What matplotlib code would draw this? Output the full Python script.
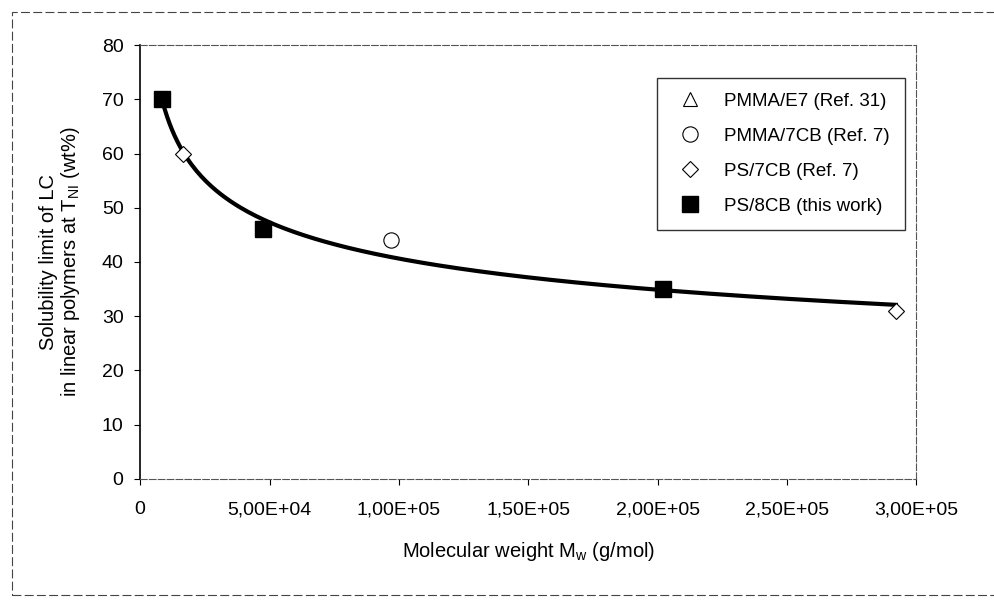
import numpy as np
import matplotlib
matplotlib.use('Agg')
import matplotlib.pyplot as plt
from matplotlib.ticker import FuncFormatter
from matplotlib.patches import Rectangle

plt.rcParams['font.family'] = ['Liberation Sans', 'DejaVu Sans']
plt.rcParams['mathtext.default'] = 'regular'

# data
pmma_e7_m = [8500]
pmma_e7_sol = [70]
pmma_7cb_m = [97000]
pmma_7cb_sol = [44]
ps_7cb_m = [16500, 292000]
ps_7cb_sol = [60, 31]
ps_8cb_m = [8500, 47500, 202000]
ps_8cb_sol = [70, 46, 35]

# power-law trendline through all points
all_m = np.array(pmma_7cb_m + ps_7cb_m + ps_8cb_m, dtype=float)
all_s = np.array(pmma_7cb_sol + ps_7cb_sol + ps_8cb_sol, dtype=float)
b, lna = np.polyfit(np.log(all_m), np.log(all_s), 1)
m_fit = np.linspace(min(all_m), max(all_m), 300)
s_fit = np.exp(lna) * m_fit ** b

fig = plt.figure(figsize=(9.94, 6.10), dpi=100)
ax = fig.add_axes([0.141, 0.215, 0.781, 0.711])

ax.plot(m_fit, s_fit, color='black', lw=3, zorder=2)
ax.plot(pmma_e7_m, pmma_e7_sol, '^', ms=10, mfc='white', mec='black', mew=0.8,
        ls='none', label='PMMA/E7 (Ref. 31)', zorder=1)
ax.plot(pmma_7cb_m, pmma_7cb_sol, 'o', ms=11, mfc='white', mec='black', mew=0.8,
        ls='none', label='PMMA/7CB (Ref. 7)', zorder=3)
ax.plot(ps_7cb_m, ps_7cb_sol, 'D', ms=8, mfc='white', mec='black', mew=0.8,
        ls='none', label='PS/7CB (Ref. 7)', zorder=3)
ax.plot(ps_8cb_m, ps_8cb_sol, 's', ms=12, color='black',
        ls='none', label='PS/8CB (this work)', zorder=4)

ax.set_xlim(0, 3.0e5)
ax.set_ylim(0, 80)
ax.set_xticks(np.arange(0, 3.01e5, 5e4))
ax.set_yticks(np.arange(0, 81, 10))
ax.xaxis.set_major_formatter(FuncFormatter(
    lambda v, p: '0' if v == 0 else ('%.2E' % v).replace('.', ',')))
ax.tick_params(labelsize=14, direction='out', length=4, width=0.8)
ax.tick_params(axis='x', pad=12)
ax.tick_params(axis='y', pad=8)

for side in ['top', 'right', 'bottom']:
    ax.spines[side].set_linestyle((0, (6, 2)))
    ax.spines[side].set_color('#555555')
    ax.spines[side].set_linewidth(0.8)
ax.spines['left'].set_linewidth(1.2)

ax.set_xlabel('Molecular weight M$_w$ (g/mol)', fontsize=14.5, labelpad=16)
ax.set_ylabel('Solubility limit of LC\nin linear polymers at T$_{NI}$ (wt%)',
              fontsize=14.5, labelpad=14, linespacing=1.05)

leg = ax.legend(loc='upper right', bbox_to_anchor=(0.985, 0.925), fontsize=13.5,
                frameon=True, fancybox=False, edgecolor='black', borderaxespad=0,
                borderpad=0.8, labelspacing=0.95, handletextpad=0.8)
leg.get_frame().set_linewidth(1.0)

# outer chart-area border
fig.patches.append(Rectangle((0.012, 0.025), 1.2, 0.955, transform=fig.transFigure,
                             fill=False, edgecolor='#444444', lw=0.8,
                             linestyle=(0, (8, 3))))

fig.savefig('out.png', dpi=100)
